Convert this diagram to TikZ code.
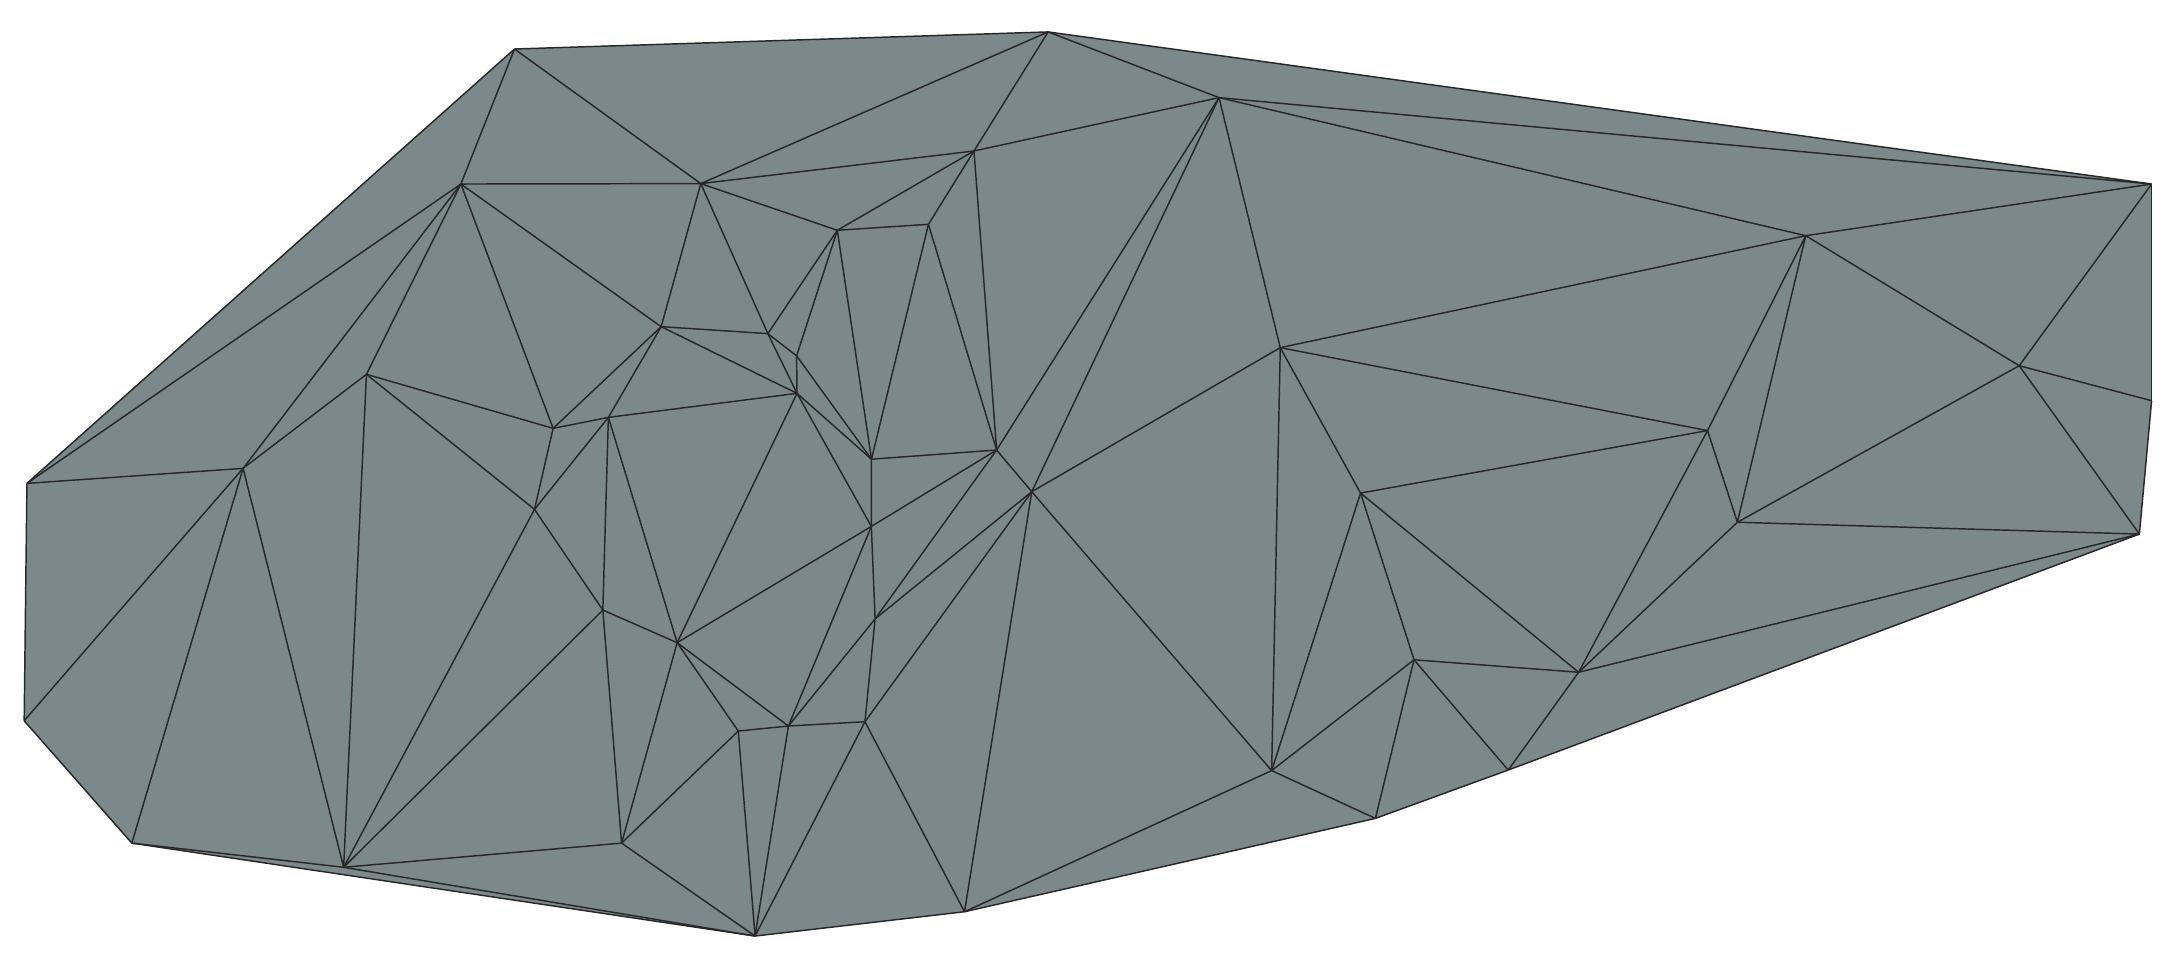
\documentclass[tikz,border=0pt]{standalone}
\begin{document}
\begin{tikzpicture}[x=0.01cm,y=-0.01cm]
\definecolor{meshgray}{RGB}{123,137,139}
\definecolor{meshline}{RGB}{40,40,40}
\tikzset{meshedge/.style={draw=meshline,line width=0.3pt,line join=round},
         meshface/.style={fill=meshgray}}
\useasboundingbox (0,0) rectangle (1568,686);
\coordinate (A) at (370.4,35.3);
\coordinate (B) at (754.6,23);
\coordinate (C) at (1549,132.5);
\coordinate (D) at (1549,288.5);
\coordinate (E) at (1540.2,384.5);
\coordinate (u) at (1085.8,554.4);
\coordinate (F) at (990.2,589.2);
\coordinate (G) at (694.4,656.4);
\coordinate (H) at (543.6,673.9);
\coordinate (I) at (94.9,607);
\coordinate (J) at (17.4,518.9);
\coordinate (K) at (19.4,348);
\coordinate (L) at (331.8,132.5);
\coordinate (M) at (504.5,132.2);
\coordinate (N) at (701.2,108.7);
\coordinate (O) at (877.6,70.3);
\coordinate (P) at (602.8,165.8);
\coordinate (Q) at (668.4,161.5);
\coordinate (R) at (476,235.2);
\coordinate (S) at (552.8,240.2);
\coordinate (T) at (573.5,256.2);
\coordinate (U) at (573.8,283.2);
\coordinate (V) at (438,300.5);
\coordinate (W) at (398.2,308.4);
\coordinate (X) at (263.8,269.5);
\coordinate (Y) at (175,337.2);
\coordinate (Z) at (384.8,366.7);
\coordinate (a) at (434,439.2);
\coordinate (b) at (487.5,462.7);
\coordinate (c) at (627.4,330.6);
\coordinate (d) at (717.5,324);
\coordinate (e) at (742.8,354);
\coordinate (f) at (627.3,379);
\coordinate (g) at (630,445.6);
\coordinate (h) at (567.6,522.7);
\coordinate (i) at (531.5,526.3);
\coordinate (j) at (622.7,519.6);
\coordinate (k) at (447.5,607);
\coordinate (l) at (247.4,624.4);
\coordinate (m) at (921.7,250.3);
\coordinate (n) at (1300,169.7);
\coordinate (o) at (1453.7,263.3);
\coordinate (p) at (1229.3,310);
\coordinate (q) at (1250.8,376);
\coordinate (r) at (979.5,355);
\coordinate (s) at (1018,475);
\coordinate (t) at (1136.5,484);
\coordinate (v) at (915.5,554.8);
\path[meshface] (K)--(A)--(B)--(C)--(D)--(E)--(u)--(F)--(G)--(H)--(I)--(J)--cycle;
\foreach \p/\q in {K/A,A/B,B/C,C/D,D/E,E/u,u/F,F/G,G/H,H/I,I/J,J/K,
  K/L,K/Y,A/L,A/M,B/M,B/N,B/O,C/O,C/n,C/o,D/o,E/o,E/q,E/t,u/s,u/t,
  F/v,F/s,G/j,G/e,G/v,H/l,H/k,H/i,H/h,H/j,I/Y,I/l,J/Y,
  L/M,L/Y,L/X,L/W,L/R,M/N,M/R,M/S,M/P,N/O,N/P,N/Q,N/d,
  O/d,O/e,O/m,O/n,P/Q,P/S,P/T,P/c,Q/c,Q/d,R/W,R/V,R/U,R/S,
  S/T,S/U,T/U,T/c,U/c,U/f,U/b,U/V,V/W,V/Z,V/a,V/b,W/X,W/Z,
  X/Y,X/Z,X/l,Y/l,Z/a,Z/l,a/l,a/k,a/b,b/f,b/h,b/i,b/k,
  c/d,c/f,d/e,d/f,d/g,e/m,e/g,e/j,e/v,f/g,f/h,g/h,g/j,h/i,h/j,
  i/k,k/l,m/n,m/p,m/r,m/v,n/p,n/q,n/o,p/r,p/t,p/q,q/t,q/o,
  r/v,r/s,r/t,s/v,s/t}
  \draw[meshedge] (\p)--(\q);
\end{tikzpicture}
\end{document}
